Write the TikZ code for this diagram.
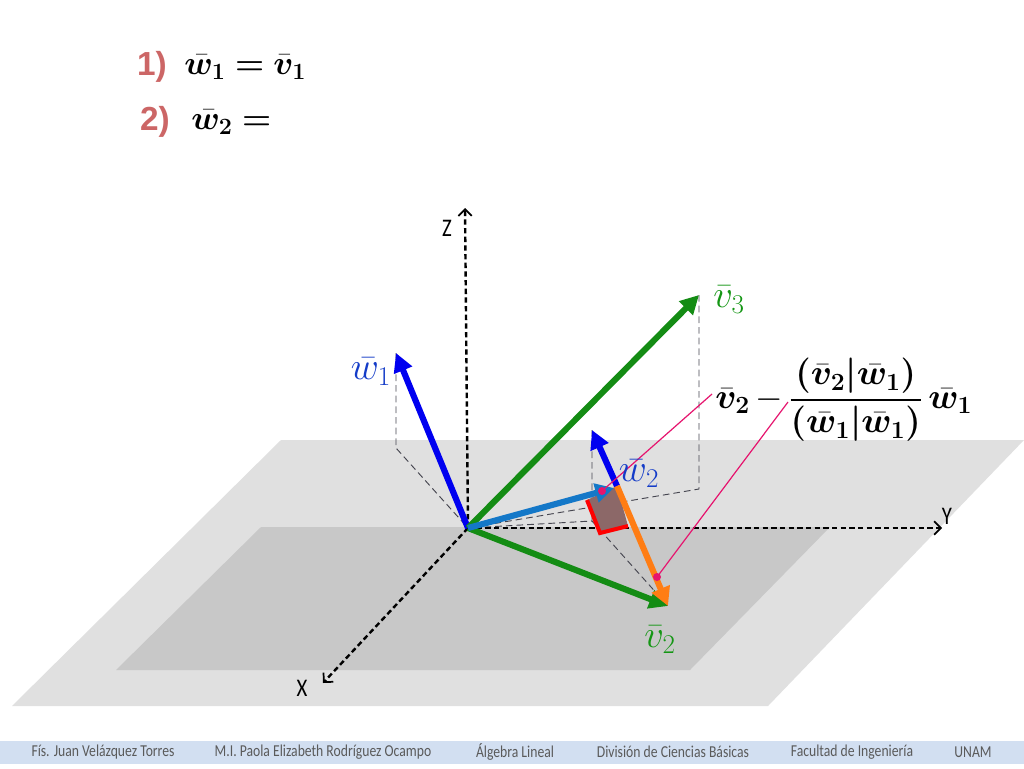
\RequirePackage{fix-cm}
\documentclass[tikz,border=0pt]{standalone}
\usepackage{amsmath}
\usepackage{bm}
\usepackage{fontspec}
\usetikzlibrary{arrows.meta}
\newfontfamily\footfont[FakeStretch=0.82]{Carlito}
\newfontfamily\numfont{Liberation Sans}
\definecolor{planeA}{RGB}{224,224,224}
\definecolor{planeB}{RGB}{200,200,200}
\definecolor{vgreen}{RGB}{20,140,20}
\definecolor{wblue}{RGB}{0,0,240}
\definecolor{lblue}{RGB}{20,120,200}
\definecolor{vorange}{RGB}{255,125,20}
\definecolor{mpink}{RGB}{230,20,110}
\definecolor{brownsq}{RGB}{140,104,104}
\definecolor{rose}{RGB}{204,102,102}
\definecolor{footband}{RGB}{210,223,241}
\definecolor{foottext}{RGB}{90,90,90}
\definecolor{labblue}{RGB}{20,60,200}
\definecolor{labgreen}{RGB}{20,150,20}
\definecolor{dashgray}{RGB}{70,70,80}
\tikzset{
  vec/.style={line width=4.6pt,-{Triangle[length=14pt,width=14pt]}},
  axis/.style={line width=1.8pt,dash pattern=on 4pt off 2.5pt,-{Straight Barb[length=5pt,width=10pt,line width=1.3pt]}},
  guide/.style={line width=0.7pt,dashgray,dash pattern=on 5pt off 3pt},
  axlabel/.style={font=\footfont\fontsize{19}{21}\selectfont,text=black,inner sep=0pt},
  veclabel/.style={font=\fontsize{29}{32}\selectfont,inner sep=0pt},
  foot/.style={font=\footfont\fontsize{12.5}{14}\selectfont,text=foottext,inner sep=0pt},
  pinkline/.style={mpink,line width=0.9pt},
  dot/.style={circle,fill=mpink,inner sep=0pt,minimum size=6pt},
  numlabel/.style={font=\numfont\bfseries\fontsize{25}{28}\selectfont,text=rose,inner sep=0pt},
  bigmath/.style={font=\fontsize{25}{28}\selectfont,anchor=west,inner sep=0pt}
}
\begin{document}
\begin{tikzpicture}[x=0.75pt,y=-0.75pt]
\useasboundingbox (0,0) rectangle (1024,768);
\fill[white] (0,0) rectangle (1024,768);
% planes
\fill[planeA] (281,440) -- (1024,440) -- (768,706) -- (12,706) -- cycle;
\fill[planeB] (261,527) -- (830,527) -- (690,670) -- (116,670) -- cycle;
% footer
\fill[footband] (0,741) rectangle (1024,764);
\node[foot] (f1) at (103,752) {Fís. Juan Velázquez Torres};
\node[foot] (f2) at (323,752) {M.I. Paola Elizabeth Rodríguez Ocampo};
\node[foot] (f3) at (515,752) {Álgebra Lineal};
\node[foot] (f4) at (673,752) {División de Ciencias Básicas};
\node[foot] (f5) at (852,752) {Facultad de Ingeniería};
\node[foot] (f6) at (973,752) {UNAM};
% coordinates
\coordinate (O) at (468,528);
\coordinate (Zt) at (465,208);
\coordinate (Yt) at (942,528);
\coordinate (Xt) at (323,683);
\coordinate (W1) at (396,353);
\coordinate (W1p) at (396,448);
\coordinate (V3) at (699,295);
\coordinate (V3p) at (699,489);
\coordinate (V2) at (668,606);
\coordinate (P) at (614,488);
\coordinate (Q) at (617,486);
\coordinate (W2) at (592,430);
\coordinate (W2p) at (592,521);
\coordinate (S1) at (587,500);
\coordinate (S2) at (600,533);
\coordinate (S3) at (628,526);
\coordinate (D1) at (602,491);
\coordinate (D2) at (657,577);
\coordinate (E1) at (712,394);
\coordinate (E2) at (788,402);
% guide lines
\draw[guide] (W1) -- (W1p) -- (O);
\draw[guide] (V3) -- (V3p) -- (O);
\draw[guide] (W2) -- (W2p) -- (O);
\draw[guide] (W2p) -- (V2);
% axes
\draw[axis] (O) -- (Zt);
\draw[axis] (O) -- (Yt);
\draw[axis] (O) -- (Xt);
\node[axlabel] (zl) at (447,228) {Z};
\node[axlabel] (yl) at (947,516) {Y};
\node[axlabel] (xl) at (302,688) {X};
% square
\fill[brownsq] (S1) -- (S2) -- (S3) -- (Q) -- cycle;
\draw[red,line width=3pt] (S1) -- (S2) -- (S3);
% vectors
\draw[vec,wblue] (O) -- (W1);
\draw[vec,vgreen] (O) -- (V3);
\draw[vec,vgreen] (O) -- (V2);
\draw[vec,lblue] (O) -- (P);
\draw[vec,wblue] (Q) -- (W2);
\draw[vec,vorange] (Q) -- (V2);
% pointers
\draw[pinkline] (D1) -- (E1);
\draw[pinkline] (D2) -- (E2);
\node[dot] (d1) at (D1) {};
\node[dot] (d2) at (D2) {};
% labels
\node[veclabel,text=labblue] (lw1) at (371,372) {$\bar{w}_1$};
\node[veclabel,text=labgreen] (lv3) at (729,300) {$\bar{v}_3$};
\node[veclabel,text=labblue] (lw2) at (639,474) {$\bar{w}_2$};
\node[veclabel,text=labgreen] (lv2) at (660,640) {$\bar{v}_2$};
\node[font=\fontsize{26.5}{30}\selectfont,anchor=west,inner sep=0pt] (formula) at (715,400)
  {$\bm{\bar{v}_2}\,{-}\,\dfrac{\bm{(\bar{v}_2|\bar{w}_1)}}{\bm{(\bar{w}_1|\bar{w}_1)}}\,\bm{\bar{w}_1}$};
% top
\node[numlabel] (n1) at (152,67) {1)};
\node[bigmath] (e1) at (184,67) {$\bm{\bar{w}_1=\bar{v}_1}$};
\node[numlabel] (n2) at (155,122) {2)};
\node[bigmath] (e2) at (191,122) {$\bm{\bar{w}_2=}$};
\end{tikzpicture}
\end{document}
